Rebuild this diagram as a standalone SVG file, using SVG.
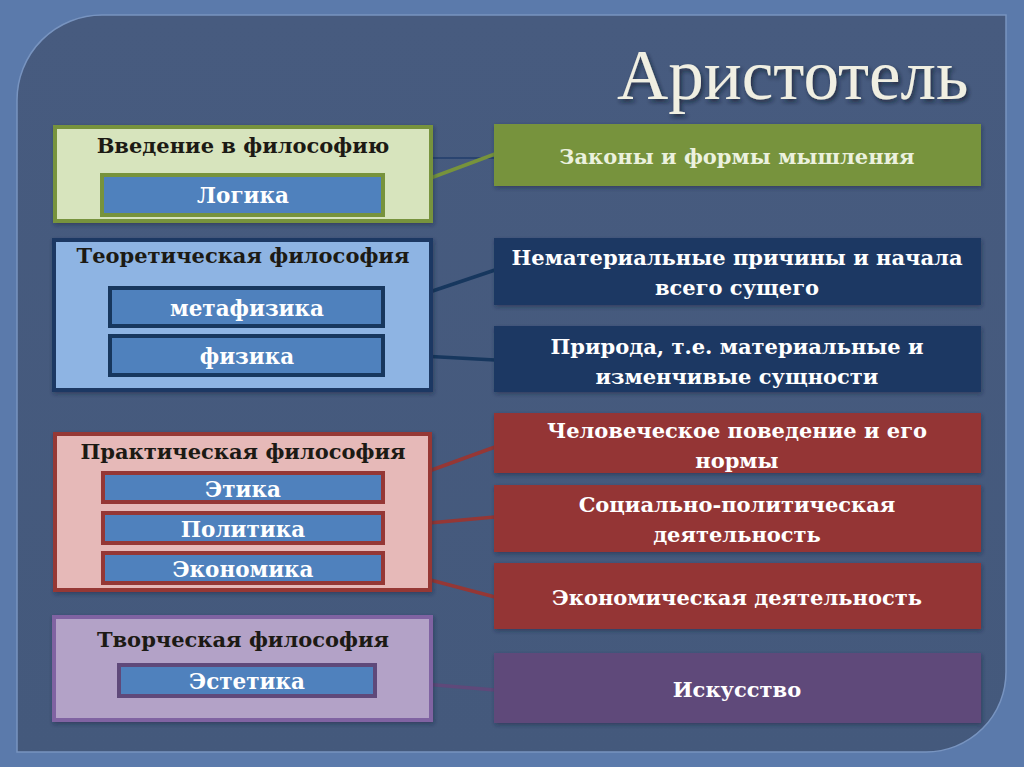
<svg xmlns="http://www.w3.org/2000/svg" width="1024" height="767" viewBox="0 0 1024 767">
  <defs>
    <filter id="sh" x="-10%" y="-20%" width="130%" height="160%">
      <feDropShadow dx="1" dy="2" stdDeviation="2" flood-color="#1a2438" flood-opacity="0.45"/>
    </filter>
    <filter id="tsh" x="-10%" y="-20%" width="130%" height="160%">
      <feDropShadow dx="2" dy="3" stdDeviation="2" flood-color="#111a2a" flood-opacity="0.7"/>
    </filter>
    <linearGradient id="panel" x1="0" y1="0" x2="0" y2="1">
      <stop offset="0" stop-color="#475b7f"/>
      <stop offset="1" stop-color="#44597c"/>
    </linearGradient>
  </defs>
  <style>
    .title { font-family: "Liberation Serif", "DejaVu Serif", serif; font-size: 71px; fill: #f0efe2; }
    .hd { font-family: "DejaVu Serif", "Liberation Serif", serif; font-weight: bold; font-size: 21px; fill: #1c1a14; text-anchor: middle; }
    .lb { font-family: "DejaVu Serif", "Liberation Serif", serif; font-weight: bold; font-size: 21.5px; fill: #ffffff; text-anchor: middle; }
    .rt { font-family: "DejaVu Serif", "Liberation Serif", serif; font-weight: bold; font-size: 21px; fill: #ffffff; text-anchor: middle; }
    .box { stroke-width: 4; }
    .inner { fill: #4f81bd; stroke-width: 4; }
    .conn line { stroke-width: 3.5; fill: none; }
  </style>

  <!-- background -->
  <rect x="0" y="0" width="1024" height="767" fill="#5b7aab"/>
  <path d="M17,100 A85,85 0 0 1 102,15 L1006,15 L1006,672 A80,80 0 0 1 926,752 L17,752 Z" fill="url(#panel)" stroke="#7894c0" stroke-width="1.5"/>

  <text class="title" x="617" y="99" filter="url(#tsh)">Аристотель</text>

  <!-- connectors -->
  <g id="connectors" class="conn">
    <line x1="433" y1="158" x2="494" y2="158" stroke="#2a4470" style="stroke-width:2"/>
    <line x1="385" y1="195" x2="495" y2="154" stroke="#77933c"/>
    <line x1="385" y1="307" x2="495" y2="270" stroke="#17375e"/>
    <line x1="385" y1="354" x2="495" y2="360" stroke="#17375e"/>
    <line x1="385" y1="487" x2="495" y2="447" stroke="#953735"/>
    <line x1="385" y1="527" x2="495" y2="517" stroke="#953735"/>
    <line x1="385" y1="568" x2="495" y2="597" stroke="#953735"/>
    <line x1="377" y1="680" x2="495" y2="690" stroke="#5f497a"/>
  </g>

  <!-- left groups -->
  <g id="intro">
    <rect class="box" x="55" y="127" width="376" height="94" fill="#d7e4bd" stroke="#77933c" filter="url(#sh)"/>
    <text class="hd" x="243" y="153">Введение в философию</text>
    <g id="logic">
      <rect class="inner" x="102" y="175" width="281" height="40" stroke="#77933c"/>
      <text class="lb" x="243" y="203">Логика</text>
    </g>
  </g>

  <g id="theoretical">
    <rect class="box" x="54" y="240" width="377" height="150" fill="#8eb4e3" stroke="#1f3864" filter="url(#sh)"/>
    <text class="hd" x="243" y="263">Теоретическая философия</text>
    <g id="metaphysics">
      <rect class="inner" x="110" y="288" width="273" height="38" stroke="#17375e"/>
      <text class="lb" x="247" y="316">метафизика</text>
    </g>
    <g id="physics">
      <rect class="inner" x="110" y="336" width="273" height="39" stroke="#17375e"/>
      <text class="lb" x="247" y="364">физика</text>
    </g>
  </g>

  <g id="practical">
    <rect class="box" x="55" y="434" width="375" height="156" fill="#e6b9b8" stroke="#953735" filter="url(#sh)"/>
    <text class="hd" x="243" y="459">Практическая философия</text>
    <g id="ethics">
      <rect class="inner" x="103" y="473" width="280" height="29" stroke="#953735"/>
      <text class="lb" x="243" y="497">Этика</text>
    </g>
    <g id="politics">
      <rect class="inner" x="103" y="513" width="280" height="30" stroke="#953735"/>
      <text class="lb" x="243" y="537">Политика</text>
    </g>
    <g id="economics">
      <rect class="inner" x="103" y="553" width="280" height="30" stroke="#953735"/>
      <text class="lb" x="243" y="577">Экономика</text>
    </g>
  </g>

  <g id="creative">
    <rect class="box" x="54" y="617" width="377" height="103" fill="#b3a2c7" stroke="#8064a2" filter="url(#sh)"/>
    <text class="hd" x="243" y="647">Творческая философия</text>
    <g id="aesthetics">
      <rect class="inner" x="119" y="665" width="256" height="31" stroke="#5f497a"/>
      <text class="lb" x="247" y="689">Эстетика</text>
    </g>
  </g>

  <!-- right boxes -->
  <g id="r-laws">
    <rect x="494" y="124" width="487" height="62" fill="#77933c" filter="url(#sh)"/>
    <text class="rt" x="737" y="164" style="fill:#ebf1de">Законы и формы мышления</text>
  </g>
  <g id="r-immaterial">
    <rect x="494" y="238" width="487" height="67" fill="#1f3864" filter="url(#sh)"/>
    <text class="rt" x="737" y="265">Нематериальные причины и начала</text>
    <text class="rt" x="737" y="295">всего сущего</text>
  </g>
  <g id="r-nature">
    <rect x="494" y="326" width="487" height="66" fill="#1f3864" filter="url(#sh)"/>
    <text class="rt" x="737" y="354">Природа, т.е. материальные и</text>
    <text class="rt" x="737" y="384">изменчивые сущности</text>
  </g>
  <g id="r-behavior">
    <rect x="494" y="413" width="487" height="60" fill="#943634" filter="url(#sh)"/>
    <text class="rt" x="737" y="438">Человеческое поведение и его</text>
    <text class="rt" x="737" y="468">нормы</text>
  </g>
  <g id="r-social">
    <rect x="494" y="485" width="487" height="67" fill="#943634" filter="url(#sh)"/>
    <text class="rt" x="737" y="512">Социально-политическая</text>
    <text class="rt" x="737" y="542">деятельность</text>
  </g>
  <g id="r-economic">
    <rect x="494" y="563" width="487" height="66" fill="#943634" filter="url(#sh)"/>
    <text class="rt" x="737" y="605">Экономическая деятельность</text>
  </g>
  <g id="r-art">
    <rect x="494" y="653" width="487" height="70" fill="#5f497a" filter="url(#sh)"/>
    <text class="rt" x="737" y="697">Искусство</text>
  </g>
</svg>
